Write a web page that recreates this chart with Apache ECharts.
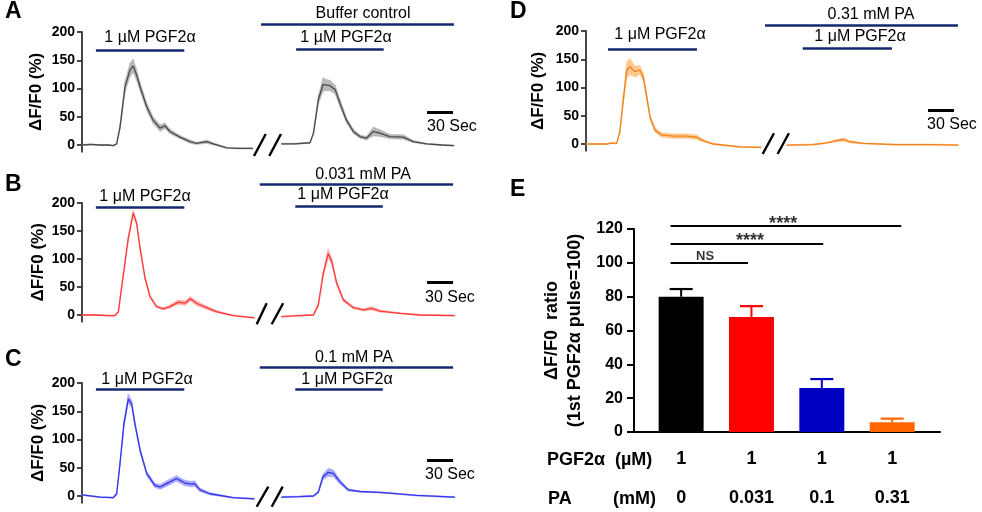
<!DOCTYPE html>
<html><head><meta charset="utf-8">
<script src="https://cdn.jsdelivr.net/npm/echarts@6/dist/echarts.min.js"></script>
<style>html,body{margin:0;padding:0;background:#fff}#c{width:982px;height:512px}</style>
</head><body><div id="c"></div>
<script>
// ---------------- DATA ----------------
const traceTicks = [0, 50, 100, 150, 200];

// Panel A (buffer control), time in seconds
const A_leftT    = [0, 10, 20, 30, 36, 40, 44, 49.6, 55.4, 59, 63, 67, 74.6, 82, 90, 95.7, 101.5, 113, 124.6, 132, 143.8, 151.5, 167, 180, 197];
const A_leftMean = [0, 1, 0, 0, -1, 2, 33, 103, 133, 140, 124, 103, 68, 44, 30, 34, 24, 14, 6, 3, 6, 2, -5, -6, -6];
const A_leftSem  = [1, 1, 1, 1, 1, 1, 5, 10, 12, 12, 10, 8, 7, 6, 6, 5, 4, 3, 3, 2, 3, 2, 1, 1, 1];
const A_rightT    = [230, 245, 263, 267, 272.6, 278, 282, 286, 292, 297.6, 305, 313, 320.6, 328, 336, 343.7, 355, 370.6, 382, 397.6, 415, 429];
const A_rightMean = [2, 2, 4, 21, 80, 107, 106, 105, 98, 74, 44, 24, 15, 12, 24, 21, 15, 14, 6, 2, 0, -1];
const A_rightSem  = [1, 1, 1, 3, 8, 12, 10, 9, 8, 7, 5, 4, 3, 3, 8, 6, 4, 4, 2, 1, 1, 1];

// Panel B (0.031 mM PA)
const B_leftT    = [0, 15, 30, 38, 42, 47.7, 53.4, 59, 63, 67, 72.7, 78.4, 86, 93.8, 101.5, 111, 118.8, 125, 132, 143.8, 155, 174.5, 199];
const B_leftMean = [0, 0, -1, -1, 6, 72, 137, 182, 164, 119, 66, 33, 15, 11, 15, 23, 21, 29, 21, 13, 6, -1, -5];
const B_leftSem  = [1, 1, 1, 1, 2, 4, 5, 5, 4, 4, 3, 3, 2, 2, 3, 4, 4, 4, 4, 3, 2, 1, 1];
const B_rightT    = [230, 250, 267, 272.6, 278, 284, 288, 293.7, 301.4, 313, 324.5, 334, 343.7, 366.8, 390, 430];
const B_rightMean = [-3, -1, 0, 18, 72, 110, 96, 57, 27, 13, 9, 12, 7, 3, 0, -1];
const B_rightSem  = [1, 1, 1, 3, 5, 8, 6, 4, 3, 2, 2, 3, 2, 1, 1, 1];

// Panel C (0.1 mM PA)
const C_leftT    = [0, 20.8, 36, 40, 43.8, 48.4, 53.4, 57.3, 61, 67, 74.6, 84, 90, 97.6, 109, 118.8, 126.5, 130, 136, 147.6, 174.5, 199];
const C_leftMean = [2, -2, -3, 4, 57, 128, 172, 163, 128, 81, 40, 19, 16, 22, 31, 23, 21, 22, 11, 4, -3, -5];
const C_leftSem  = [1, 1, 1, 2, 4, 6, 8, 6, 5, 4, 4, 4, 4, 5, 5, 5, 5, 5, 3, 2, 1, 1];
const C_rightT    = [230, 250, 267, 272.6, 278, 284, 290, 297.6, 307, 320.6, 347.5, 386, 430];
const C_rightMean = [-2, -1, 0, 7, 34, 42, 40, 25, 11, 8, 6, 1, -2];
const C_rightSem  = [1, 1, 1, 2, 5, 7, 6, 4, 2, 1, 1, 1, 1];

// Panel D (0.31 mM PA)
const D_leftT    = [0, 24, 29.6, 35.4, 39, 43, 47, 50.7, 56.5, 62, 66, 70, 73.8, 79.6, 87, 100.7, 116, 127.7, 135, 147, 177.6, 202];
const D_leftMean = [0, 0, 2, 1, 22, 78, 131, 137, 128, 131, 119, 84, 48, 25, 16, 14, 14, 12, 6, 0, -5, -6];
const D_leftSem  = [1, 1, 1, 1, 3, 8, 14, 14, 10, 8, 7, 5, 4, 4, 4, 4, 4, 4, 2, 1, 1, 1];
const D_rightT    = [231.5, 262, 277.6, 289, 296.8, 304.5, 319.8, 358, 396.8, 429.5];
const D_rightMean = [-2, -1, 2, 6, 8, 4, 1, -1, -1, -2];
const D_rightSem  = [1, 1, 1, 2, 3, 2, 1, 1, 1, 1];

// Stimulus bars [start s, end s, level]
const A_stim = [[16, 118, 168], [206.5, 429, 214], [247, 348, 170]];
const B_stim = [[16, 118, 193], [205, 428, 234], [246, 347, 195]];
const C_stim = [[16, 118, 189], [205, 428, 228], [246, 347, 189]];
const D_stim = [[25.4, 128, 168], [206.5, 429, 211], [250, 353, 170]];
const A_stimText = ['1 µM PGF2α', 'Buffer control', '1 µM PGF2α'];
const B_stimText = ['1 μM PGF2α', '0.031 mM PA', '1 μM PGF2α'];
const C_stimText = ['1 μM PGF2α', '0.1 mM PA', '1 μM PGF2α'];
const D_stimText = ['1 μM PGF2α', '0.31 mM PA', '1 μM PGF2α'];

// 30 s scale bars [start, end, level]
const A_scale = [398, 428, 58];
const B_scale = [398, 428, 59];
const C_scale = [398, 428, 64];
const D_scale = [394.5, 424.5, 60];

// axis break slashes [t1, v1, t2, v2]
const A_breaks = [[198.4, -19.5, 211.9, 19.5], [216, -19.5, 229.5, 19.5]];
const B_breaks = [[201.5, -16.6, 213, 20.9], [218.8, -16.6, 232, 20.9]];
const C_breaks = [[201.5, -19, 214.9, 16.5], [218.8, -19, 231.5, 16.5]];
const D_breaks = [[203.8, -17.7, 216.8, 19], [221, -17.7, 234, 19]];

// Panel E
const E_pgf   = ['1', '1', '1', '1'];
const E_pa    = ['0', '0.031', '0.1', '0.31'];
const E_mean  = [80, 68, 26, 5.7];
const E_sem   = [4.5, 6.4, 5.3, 2.2];
const E_sigEnd   = [0.95, 2.02, 3.13];
const E_sigLevel = [100, 111, 122];
const E_sigText  = ['NS', '****', '****'];
const E_sigStart = -0.15;

// ---------------- LAYOUT ----------------
const FONT = '"Liberation Sans", Arial, sans-serif';
const NAVY = '#14286e';
const panels = [
  {letter:'A', grid:{left:82, top:32, width:378, height:119.8}, color:'#4a4a4a', band:'#b8b8b8', nameGap:37,
   sections:[[A_leftT, A_leftMean, A_leftSem], [A_rightT, A_rightMean, A_rightSem]],
   stim:A_stim, stimText:A_stimText, stimPos:[[150,38],[363,14],[346,38]], scale:A_scale, scalePos:[427,127],
   breaks:A_breaks, letterPos:[5,12]},
  {letter:'B', grid:{left:82, top:203, width:378, height:118.7}, color:'#ff3a3a', band:'#ffb0b0', nameGap:35,
   sections:[[B_leftT, B_leftMean, B_leftSem], [B_rightT, B_rightMean, B_rightSem]],
   stim:B_stim, stimText:B_stimText, stimPos:[[145,197],[363,175],[343,195]], scale:B_scale, scalePos:[425,298],
   breaks:B_breaks, letterPos:[5,185]},
  {letter:'C', grid:{left:82, top:383, width:378, height:119.8}, color:'#3434ea', band:'#a8a8ff', nameGap:35,
   sections:[[C_leftT, C_leftMean, C_leftSem], [C_rightT, C_rightMean, C_rightSem]],
   stim:C_stim, stimText:C_stimText, stimPos:[[147,380],[354,358],[347,380]], scale:C_scale, scalePos:[425,475],
   breaks:C_breaks, letterPos:[5,360]},
  {letter:'D', grid:{left:586, top:31, width:378, height:119.8}, color:'#f0821e', band:'#ffc88e', nameGap:39,
   sections:[[D_leftT, D_leftMean, D_leftSem], [D_rightT, D_rightMean, D_rightSem]],
   stim:D_stim, stimText:D_stimText, stimPos:[[660,35],[871,15],[860,37]], scale:D_scale, scalePos:[927,125],
   breaks:D_breaks, letterPos:[510,12]}
];
const barColors = ['#000000', '#ff0000', '#0000c0', '#ff6600'];

const grids = [], xAxes = [], yAxes = [], series = [], graphics = [];
function txt(text, x, y, size, weight, align) {
  graphics.push({type:'text', x:x, y:y, silent:true, style:{text:text, fill:'#000', font:(weight||'normal') + ' ' + size + 'px ' + FONT, textAlign:align||'center', textVerticalAlign:'middle'}});
}
function bandItem(band) {
  return (params, api) => {
    const a = api.coord([api.value(0), api.value(1)]);
    const b = api.coord([api.value(0), api.value(2)]);
    const c = api.coord([api.value(3), api.value(5)]);
    const d = api.coord([api.value(3), api.value(4)]);
    return {type:'polygon', shape:{points:[a, b, c, d]}, style:{fill:band, stroke:band, lineWidth:0.6}};
  };
}

panels.forEach((p, gi) => {
  grids.push(p.grid);
  xAxes.push({gridIndex:gi, type:'value', min:0, max:436, show:false});
  yAxes.push({gridIndex:gi, type:'value', min:-12, max:200,
    name:'ΔF/F0 (%)', nameLocation:'middle', nameRotate:90, nameGap:p.nameGap,
    nameTextStyle:{fontFamily:FONT, fontSize:17, fontWeight:'bold', color:'#000'},
    axisLine:{show:true, onZero:false, lineStyle:{color:'#333', width:1.8}},
    axisTick:{show:true, length:5, customValues:traceTicks, lineStyle:{color:'#333', width:1.8}},
    axisLabel:{customValues:traceTicks, fontFamily:FONT, fontSize:14, fontWeight:'bold', color:'#000', margin:7},
    splitLine:{show:false}});
  p.sections.forEach((sec) => {
    const [t, m, s] = sec;
    const bandData = [];
    for (let i = 0; i < t.length - 1; i++) {
      bandData.push([t[i], m[i] - s[i], m[i] + s[i], t[i + 1], m[i + 1] - s[i + 1], m[i + 1] + s[i + 1]]);
    }
    series.push({type:'custom', xAxisIndex:gi, yAxisIndex:gi, silent:true, z:1, encode:{x:0, y:[1, 2]},
      data:bandData, renderItem:bandItem(p.band)});
    series.push({type:'line', xAxisIndex:gi, yAxisIndex:gi, symbol:'none', silent:true,
      data:t.map((x, i) => [x, m[i]]), lineStyle:{color:p.color, width:1.3}, z:2});
  });
  series.push({type:'lines', coordinateSystem:'cartesian2d', xAxisIndex:gi, yAxisIndex:gi, clip:false, silent:true,
    data:p.stim.map(s => ({coords:[[s[0], s[2]], [s[1], s[2]]]})), lineStyle:{color:NAVY, width:2.6, opacity:1}});
  series.push({type:'lines', coordinateSystem:'cartesian2d', xAxisIndex:gi, yAxisIndex:gi, clip:false, silent:true,
    data:[{coords:[[p.scale[0], p.scale[2]], [p.scale[1], p.scale[2]]]}], lineStyle:{color:'#000', width:3, opacity:1}});
  series.push({type:'lines', coordinateSystem:'cartesian2d', xAxisIndex:gi, yAxisIndex:gi, clip:false, silent:true,
    data:p.breaks.map(b => ({coords:[[b[0], b[1]], [b[2], b[3]]]})), lineStyle:{color:'#000', width:2.4, opacity:1}, z:5});
  p.stimText.forEach((tx, i) => txt(tx, p.stimPos[i][0], p.stimPos[i][1], 16, 'normal', 'center'));
  txt('30 Sec', p.scalePos[0], p.scalePos[1], 16, 'normal', 'left');
  txt(p.letter, p.letterPos[0], p.letterPos[1], 23, 'bold', 'left');
});

// Panel E
const ei = 4;
grids.push({left:634, top:229, width:306, height:203});
xAxes.push({gridIndex:ei, type:'value', min:-0.67, max:3.68,
  axisLine:{show:true, onZero:false, lineStyle:{color:'#000', width:2}}, axisTick:{show:false}, splitLine:{show:false},
  axisLabel:{customValues:[0, 1, 2, 3], margin:8, formatter:(v) => '{a|' + E_pgf[Math.round(v)] + '}\n{a|' + E_pa[Math.round(v)] + '}',
    rich:{a:{fontFamily:FONT, fontSize:18, fontWeight:'bold', color:'#000', lineHeight:39}}}});
yAxes.push({gridIndex:ei, type:'value', min:0, max:120, interval:20,
  name:'ΔF/F0  ratio\n(1st PGF2α pulse=100)', nameLocation:'middle', nameRotate:90, nameGap:47,
  nameTextStyle:{fontFamily:FONT, fontSize:18, fontWeight:'bold', color:'#000', lineHeight:23},
  axisLine:{show:true, onZero:false, lineStyle:{color:'#000', width:2}},
  axisTick:{show:true, length:7, lineStyle:{color:'#000', width:2}},
  axisLabel:{fontFamily:FONT, fontSize:16, fontWeight:'bold', color:'#000', margin:11},
  splitLine:{show:false}});
series.push({type:'bar', xAxisIndex:ei, yAxisIndex:ei, barWidth:45, silent:true,
  data:E_mean.map((m, i) => ({value:[i, m], itemStyle:{color:barColors[i]}}))});
series.push({type:'custom', xAxisIndex:ei, yAxisIndex:ei, silent:true, z:3, encode:{x:0, y:1},
  data:E_mean.map((m, i) => [i, m, E_sem[i]]),
  renderItem:(params, api) => {
    const x = api.value(0), m = api.value(1), s = api.value(2);
    const p0 = api.coord([x, m]), p1 = api.coord([x, m + s]);
    const c = barColors[params.dataIndex];
    return {type:'group', children:[
      {type:'line', shape:{x1:p0[0], y1:p0[1], x2:p1[0], y2:p1[1]}, style:{stroke:c, lineWidth:2}},
      {type:'line', shape:{x1:p1[0] - 11.5, y1:p1[1], x2:p1[0] + 11.5, y2:p1[1]}, style:{stroke:c, lineWidth:2.2}}
    ]};
  }});
series.push({type:'lines', coordinateSystem:'cartesian2d', xAxisIndex:ei, yAxisIndex:ei, clip:false, silent:true,
  data:E_sigEnd.map((e, i) => ({coords:[[E_sigStart, E_sigLevel[i]], [e, E_sigLevel[i]]]})), lineStyle:{color:'#000', width:2, opacity:1}});
const sigTextPos = [[0.34, 104, 13], [0.98, 112.7, 18], [1.45, 123.2, 18]];
series.push({type:'scatter', xAxisIndex:ei, yAxisIndex:ei, clip:false, silent:true, symbolSize:1, itemStyle:{color:'rgba(0,0,0,0)'},
  data:E_sigText.map((t, i) => ({value:[sigTextPos[i][0], sigTextPos[i][1]],
    label:{show:true, position:'inside', formatter:t, fontFamily:FONT, fontWeight:'bold', fontSize:sigTextPos[i][2], color:'#000'}}))});
txt('E', 510, 190, 23, 'bold', 'left');
txt('PGF2α', 547, 460, 18, 'bold', 'left');
txt('(µM)', 615, 460, 18, 'bold', 'left');
txt('PA', 548, 499, 18, 'bold', 'left');
txt('(mM)', 613, 499, 18, 'bold', 'left');

const chart = echarts.init(document.getElementById('c'), null, {renderer:'canvas'});
chart.setOption({animation:false, backgroundColor:'#fff', grid:grids, xAxis:xAxes, yAxis:yAxes, series:series, graphic:graphics});
</script></body></html>
